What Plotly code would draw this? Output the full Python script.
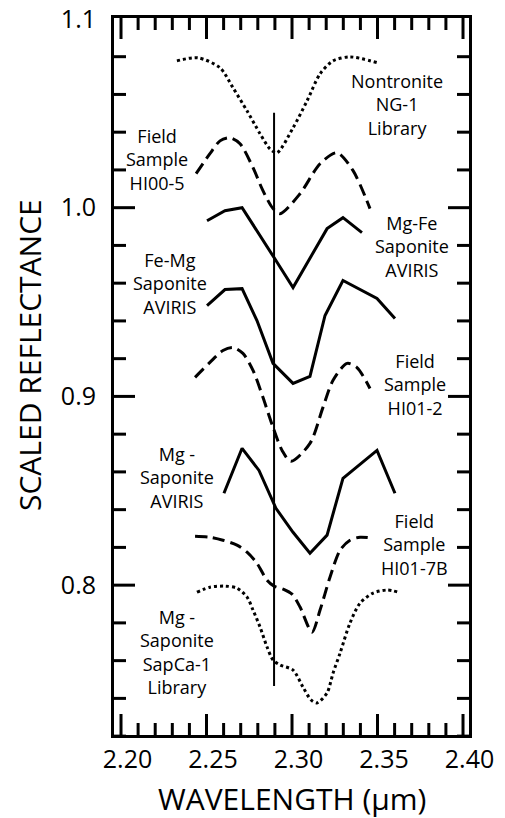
import plotly.graph_objects as go

# ---------------- data ----------------
nontronite_x = [2.2327, 2.2450, 2.2579, 2.2655, 2.2737, 2.2813, 2.2871, 2.2912, 2.3006, 2.3088, 2.3164, 2.3240, 2.3339, 2.3503]
nontronite_y = [1.0778, 1.0794, 1.0741, 1.0635, 1.0513, 1.0392, 1.0312, 1.0291, 1.0423, 1.0566, 1.0709, 1.0778, 1.0799, 1.0767]

hi005_x = [2.2439, 2.2520, 2.2579, 2.2637, 2.2696, 2.2772, 2.2830, 2.2889, 2.2930, 2.3047, 2.3164, 2.3263, 2.3357, 2.3456]
hi005_y = [1.0180, 1.0286, 1.0354, 1.0370, 1.0339, 1.0212, 1.0090, 0.9995, 0.9968, 1.0074, 1.0233, 1.0291, 1.0196, 0.9995]

mgfe_x = [2.2503, 2.2608, 2.2708, 2.2807, 2.2906, 2.3006, 2.3105, 2.3205, 2.3298, 2.3409]
mgfe_y = [0.9931, 0.9984, 1.0000, 0.9862, 0.9720, 0.9577, 0.9735, 0.9889, 0.9947, 0.9868]

femg_x = [2.2503, 2.2608, 2.2708, 2.2795, 2.2889, 2.3006, 2.3105, 2.3193, 2.3298, 2.3497, 2.3602]
femg_y = [0.9481, 0.9566, 0.9571, 0.9402, 0.9175, 0.9069, 0.9106, 0.9429, 0.9614, 0.9519, 0.9413]

hi012_x = [2.2433, 2.2520, 2.2596, 2.2655, 2.2713, 2.2772, 2.2830, 2.2889, 2.2942, 2.2994, 2.3105, 2.3181, 2.3240, 2.3322, 2.3380, 2.3456]
hi012_y = [0.9101, 0.9180, 0.9243, 0.9259, 0.9228, 0.9138, 0.8995, 0.8836, 0.8714, 0.8656, 0.8751, 0.8942, 0.9085, 0.9175, 0.9153, 0.9042]

mgsap_x = [2.2602, 2.2708, 2.2807, 2.2906, 2.3006, 2.3105, 2.3205, 2.3298, 2.3497, 2.3602]
mgsap_y = [0.8487, 0.8725, 0.8608, 0.8407, 0.8280, 0.8169, 0.8265, 0.8566, 0.8714, 0.8487]

hi017b_x = [2.2433, 2.2520, 2.2596, 2.2678, 2.2737, 2.2795, 2.2854, 2.2895, 2.2947, 2.3000, 2.3047, 2.3117, 2.3164, 2.3222, 2.3281, 2.3339, 2.3398, 2.3468]
hi017b_y = [0.8259, 0.8254, 0.8238, 0.8212, 0.8175, 0.8116, 0.8026, 0.7995, 0.7979, 0.7952, 0.7884, 0.7751, 0.7868, 0.8042, 0.8185, 0.8238, 0.8254, 0.8249]

sapca_x = [2.2444, 2.2520, 2.2608, 2.2678, 2.2737, 2.2772, 2.2813, 2.2854, 2.2889, 2.2930, 2.3006, 2.3064, 2.3111, 2.3146, 2.3205, 2.3240, 2.3281, 2.3339, 2.3398, 2.3474, 2.3556, 2.3620]
sapca_y = [0.7963, 0.7989, 0.7995, 0.7984, 0.7937, 0.7868, 0.7778, 0.7672, 0.7603, 0.7577, 0.7550, 0.7460, 0.7392, 0.7376, 0.7429, 0.7534, 0.7640, 0.7799, 0.7905, 0.7958, 0.7974, 0.7963]

vline_x = [2.2895, 2.2895]
vline_y = [0.7466, 1.0503]

label_texts = ["Nontronite<br>NG-1<br>Library", "Field<br>Sample<br>HI00-5", "Mg-Fe<br>Saponite<br>AVIRIS",
               "Fe-Mg<br>Saponite<br>AVIRIS", "Field<br>Sample<br>HI01-2", "Mg -<br>Saponite<br>AVIRIS",
               "Field<br>Sample<br>HI01-7B", "Mg -<br>Saponite<br>SapCa-1<br>Library"]
label_x = [2.3614, 2.2211, 2.3702, 2.2287, 2.3719, 2.2327, 2.3719, 2.2327]
label_y = [1.0545, 1.0254, 0.9794, 0.9598, 0.9063, 0.8571, 0.8217, 0.7646]

x_major = [2.20, 2.25, 2.30, 2.35, 2.40]
x_major_text = ["2.20", "2.25", "2.30", "2.35", "2.40"]
x_minor = [round(2.20 + 0.01 * i, 2) for i in range(21)]
y_major = [0.8, 0.9, 1.0, 1.1]
y_major_text = ["0.8", "0.9", "1.0", "1.1"]
y_minor = [round(0.72 + 0.02 * i, 2) for i in range(20)]

X_RANGE = [2.1959, 2.4035]
Y_RANGE = [0.7206, 1.1005]

# ---------------- layout constants ----------------
W, H = 505, 818
ML, MR, MT, MB = 114, 36, 18, 83
PLOT_W = W - ML - MR
PLOT_H = H - MT - MB
MAJ_LEN, MIN_LEN = 21, 12     # inside tick lengths in pixels

FONT = "Open Sans"
NBSP = "\u00a0"
fig = go.Figure()

def add(x, y, dash, shape):
    fig.add_trace(go.Scatter(x=x, y=y, mode="lines",
                             line=dict(color="black", width=3, dash=dash, shape=shape, smoothing=0.8),
                             showlegend=False, hoverinfo="skip"))

add(nontronite_x, nontronite_y, "dot", "spline")
add(hi005_x, hi005_y, "12px,6px", "spline")
add(mgfe_x, mgfe_y, "solid", "linear")
add(femg_x, femg_y, "solid", "linear")
add(hi012_x, hi012_y, "12px,6px", "spline")
add(mgsap_x, mgsap_y, "solid", "linear")
add(hi017b_x, hi017b_y, "12px,6px", "spline")
add(sapca_x, sapca_y, "dot", "spline")

fig.add_trace(go.Scatter(x=vline_x, y=vline_y, mode="lines",
                         line=dict(color="black", width=2), showlegend=False, hoverinfo="skip"))

# ---- inside tick marks on all four sides (drawn on the data axes at the tick values) ----
x_per_px = (X_RANGE[1] - X_RANGE[0]) / PLOT_W
y_per_px = (Y_RANGE[1] - Y_RANGE[0]) / PLOT_H
tx, ty = [], []
for v in x_minor:
    L = (MAJ_LEN if any(abs(v - m) < 1e-9 for m in x_major) else MIN_LEN) * y_per_px
    tx += [v, v, None, v, v, None]
    ty += [Y_RANGE[0], Y_RANGE[0] + L, None, Y_RANGE[1], Y_RANGE[1] - L, None]
for v in y_minor + [1.1]:
    if v > Y_RANGE[1] - 2 * y_per_px:
        continue
    L = (MAJ_LEN if any(abs(v - m) < 1e-9 for m in y_major) else MIN_LEN) * x_per_px
    tx += [X_RANGE[0], X_RANGE[0] + L, None, X_RANGE[1], X_RANGE[1] - L, None]
    ty += [v, v, None, v, v, None]
fig.add_trace(go.Scatter(x=tx, y=ty, mode="lines", line=dict(color="black", width=3),
                         showlegend=False, hoverinfo="skip", connectgaps=False))

for t, xx, yy in zip(label_texts, label_x, label_y):
    fig.add_annotation(x=xx, y=yy, xref="x", yref="y", text=t, showarrow=False,
                       xanchor="center", yanchor="middle", align="center",
                       font=dict(family=FONT, size=18, color="black"))

# axis titles as annotations
fig.add_annotation(x=-0.2366, y=0.530, xref="paper", yref="paper", text="SCALED REFLECTANCE",
                   textangle=-90, showarrow=False, xanchor="center", yanchor="middle",
                   font=dict(family=FONT, size=30, color="black"))
fig.add_annotation(x=0.5, y=-0.0879, xref="paper", yref="paper", text="WAVELENGTH (\u03bcm)",
                   showarrow=False, xanchor="center", yanchor="middle",
                   font=dict(family=FONT, size=30, color="black"))

common = dict(showline=True, linecolor="black", linewidth=3, mirror=True, ticks="",
              showgrid=False, zeroline=False, automargin=False,
              tickfont=dict(family=FONT, size=25, color="black"))

fig.update_layout(
    width=W, height=H, margin=dict(l=ML, r=MR, t=MT, b=MB),
    paper_bgcolor="white", plot_bgcolor="white",
    font=dict(family=FONT, color="black"),
    xaxis=dict(range=X_RANGE, tickmode="array", tickvals=x_major,
               ticktext=[NBSP * 2 + t for t in x_major_text], **common),
    yaxis=dict(range=Y_RANGE, tickmode="array", tickvals=y_major, ticktext=y_major_text,
               ticklabelstandoff=10, **common),
)

fig.write_html("out.html")
